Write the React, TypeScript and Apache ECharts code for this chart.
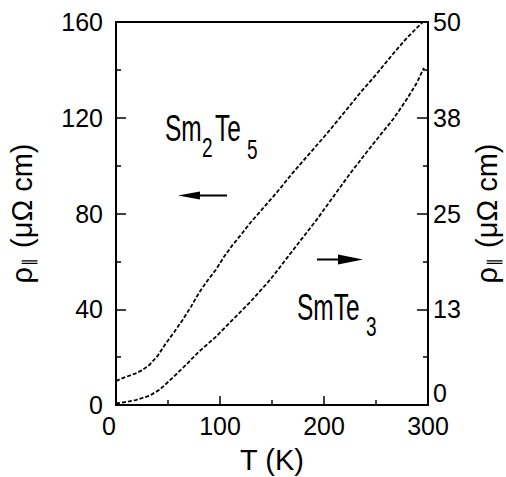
import React, { useEffect, useRef } from "react";
import * as echarts from "echarts";

// Sm2Te5, left axis (rho in micro-ohm cm)
const sm2te5T = [0, 5, 10, 19, 25, 32, 40, 48, 56, 64, 72, 80, 88, 96, 104, 112, 120, 128, 138, 144, 155, 170, 185, 203, 220, 235, 250, 267, 280, 295];
const sm2te5Rho = [10, 11, 11.8, 13.2, 14.5, 16.7, 20.5, 25.8, 30.5, 35.5, 41, 47, 52, 56.5, 62, 66.8, 71, 75.5, 80.5, 83.5, 89, 97, 104.5, 113.5, 122.5, 130.5, 138, 147, 153.5, 160];

// SmTe3, right axis
const smte3T = [0, 10, 19, 25, 32, 42, 54, 67, 80, 96, 112, 128, 144, 152, 165, 177, 193, 209, 225, 241, 255, 267, 280, 289, 296];
const smte3Rho = [0.2, 0.4, 0.65, 0.9, 1.2, 2.0, 3.5, 5.2, 7.0, 8.9, 11.1, 13.3, 15.7, 17.0, 19.3, 21.4, 24.2, 27.2, 30.2, 33.0, 35.4, 37.4, 40.0, 42.0, 44.0];

const xRange = [0, 300];
const xInterval = 100;
const leftRange = [0, 160];
const leftInterval = 40;
const rightRange = [0, 50];
const rightInterval = 12.5;

const FONT = "'Liberation Sans', Arial, sans-serif";

export default function App() {
  const ref = useRef<HTMLDivElement>(null);
  useEffect(() => {
    const chart = echarts.init(ref.current!, null, { renderer: "svg" });
    const axisCommon = {
      axisLine: { show: true, lineStyle: { color: "#000", width: 2 } },
      axisTick: { show: true, inside: true, length: 10, lineStyle: { color: "#000", width: 1.5 } },
      minorTick: { show: true, splitNumber: 2, length: 5, lineStyle: { color: "#000", width: 1.5 } },
      splitLine: { show: false },
      minorSplitLine: { show: false },
    };
    const titleRich = {
      r: { fontSize: 29, fontFamily: FONT, color: "#000" },
      s: { fontSize: 16, fontFamily: FONT, color: "#000", verticalAlign: "bottom", padding: [0, 2, 0, 1] },
    };
    const annot = (text: string, x: number, y: number, size: number) => ({
      type: "text",
      x,
      y,
      scaleX: 0.68,
      style: { text, fontSize: size, fontFamily: FONT, fill: "#000", align: "left", verticalAlign: "middle" },
    });
    chart.setOption({
      animation: false,
      backgroundColor: "#fff",
      grid: {
        left: 116, right: 78, top: 22, bottom: 72,
        show: true, borderColor: "#000", borderWidth: 2,
        outerBoundsMode: "none",
      },
      xAxis: {
        type: "value",
        min: xRange[0], max: xRange[1], interval: xInterval,
        ...axisCommon,
        axisTick: { ...axisCommon.axisTick, length: 9 },
        axisLabel: {
          color: "#000", fontSize: 25, fontFamily: FONT, margin: 8,
          showMinLabel: true, showMaxLabel: true, alignMinLabel: "right",
        },
        name: "T (K)",
        nameLocation: "middle",
        nameGap: 40,
        nameTextStyle: { fontSize: 29, fontFamily: FONT, color: "#000" },
      },
      yAxis: [
        {
          type: "value",
          position: "left",
          min: leftRange[0], max: leftRange[1], interval: leftInterval,
          ...axisCommon,
          axisLabel: { color: "#000", fontSize: 25, fontFamily: FONT, margin: 13, showMinLabel: true, showMaxLabel: true },
          name: "{r|ρ}{s|∥} (μΩ cm)",
          nameLocation: "middle",
          nameRotate: 90,
          nameGap: 80,
          nameTextStyle: { fontSize: 29, fontFamily: FONT, color: "#000", rich: titleRich },
        },
        {
          type: "value",
          position: "right",
          min: rightRange[0], max: rightRange[1], interval: rightInterval,
          ...axisCommon,
          axisTick: { ...axisCommon.axisTick, length: 11 },
          axisLabel: {
            color: "#000", fontSize: 25, fontFamily: FONT, margin: 5,
            showMinLabel: true, showMaxLabel: true,
            verticalAlignMinLabel: "bottom",
            formatter: (v: number) => String(Math.round(v)),
          },
          name: "{r|ρ}{s|∥} (μΩ cm)",
          nameLocation: "middle",
          nameRotate: 90,
          nameGap: 44,
          nameTextStyle: { fontSize: 29, fontFamily: FONT, color: "#000", rich: titleRich },
        },
      ],
      series: [
        {
          name: "Sm2Te5",
          type: "line",
          yAxisIndex: 0,
          data: sm2te5T.map((t, i) => [t, sm2te5Rho[i]]),
          showSymbol: false,
          lineStyle: { color: "#000", width: 1.8, type: [4, 2] },
        },
        {
          name: "SmTe3",
          type: "line",
          yAxisIndex: 1,
          data: smte3T.map((t, i) => [t, smte3Rho[i]]),
          showSymbol: false,
          lineStyle: { color: "#000", width: 1.8, type: [4, 2] },
        },
      ],
      graphic: [
        annot("Sm", 165, 129, 36),
        annot("2", 202, 147, 28),
        annot("Te", 215, 129, 36),
        annot("5", 247, 149, 28),
        annot("SmTe", 297, 308, 36),
        annot("3", 366, 326, 28),
        { type: "line", shape: { x1: 192, y1: 195.5, x2: 227, y2: 195.5 }, style: { stroke: "#000", lineWidth: 2 } },
        { type: "polygon", shape: { points: [[178, 195.5], [200, 191.5], [200, 199.5]] }, style: { fill: "#000" } },
        { type: "line", shape: { x1: 317, y1: 259.5, x2: 350, y2: 259.5 }, style: { stroke: "#000", lineWidth: 2 } },
        { type: "polygon", shape: { points: [[363, 259.5], [338, 254.5], [338, 264.5]] }, style: { fill: "#000" } },
      ],
    });
    return () => chart.dispose();
  }, []);
  return <div ref={ref} style={{ position: "fixed", left: 0, top: 0, width: 506, height: 477 }} />;
}
